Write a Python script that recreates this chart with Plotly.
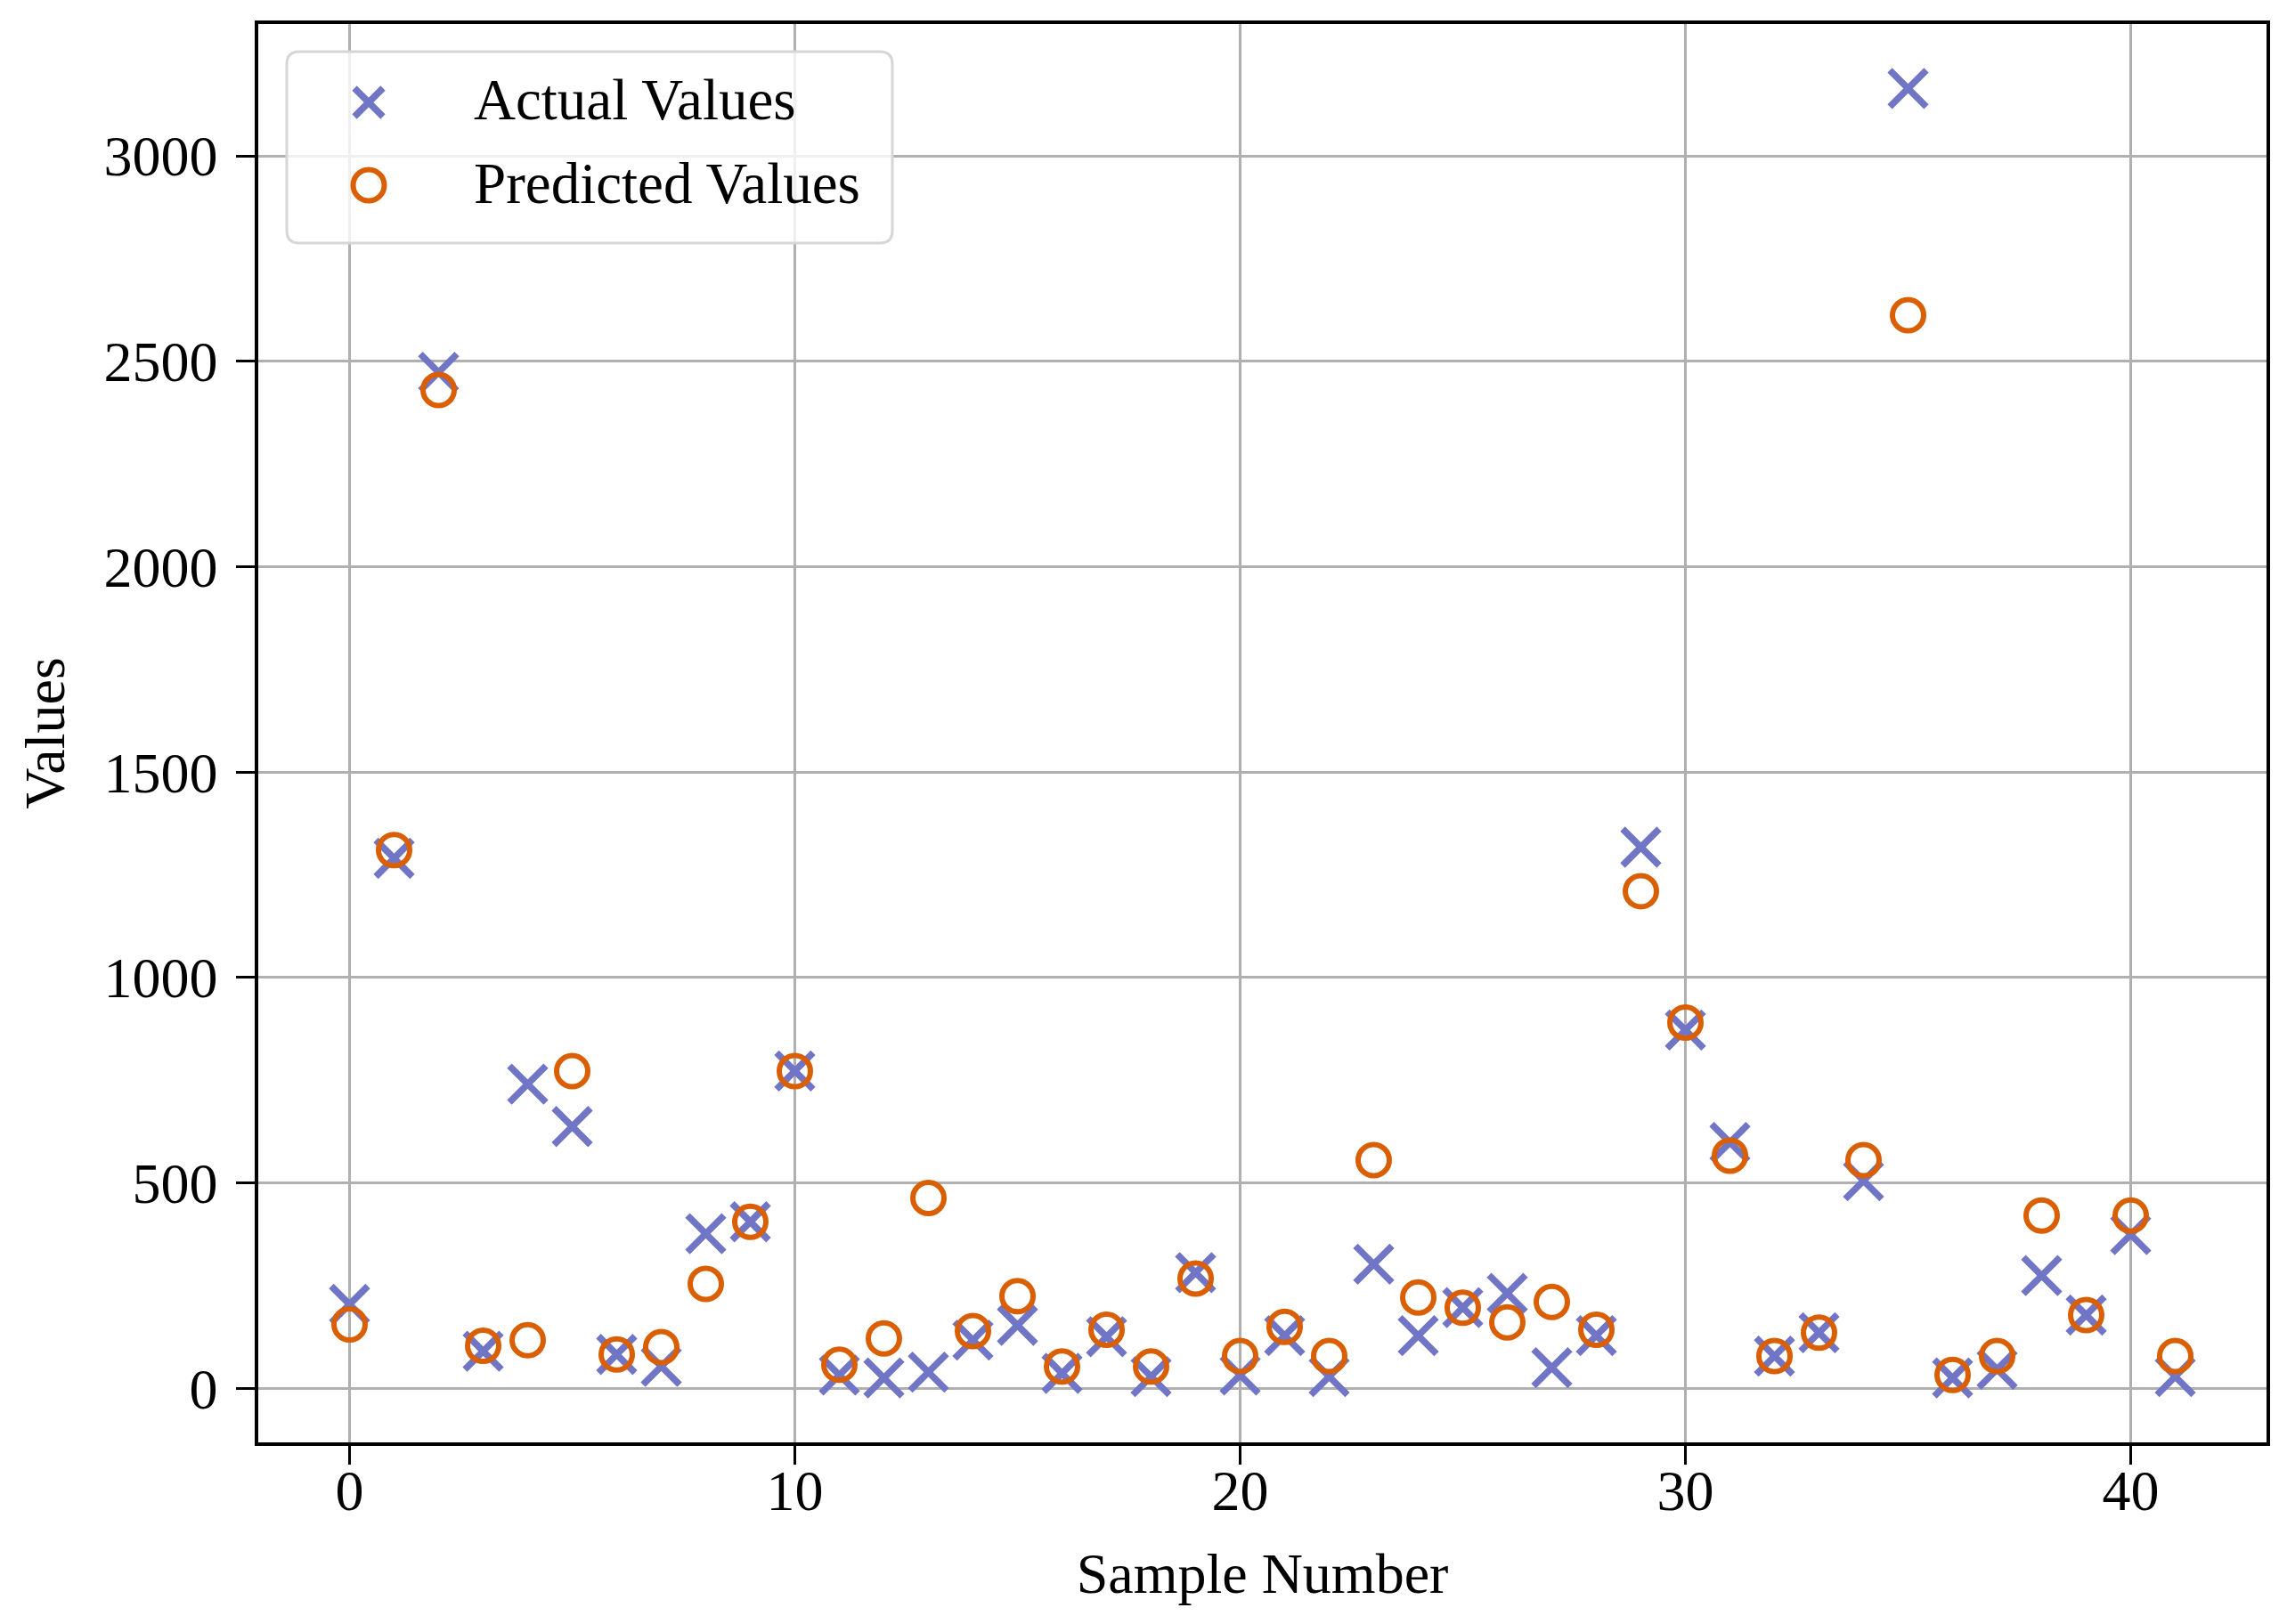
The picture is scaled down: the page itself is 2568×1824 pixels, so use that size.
import plotly.graph_objects as go

# ---- data ----
sample_number = list(range(42))
actual_values = [204, 1290, 2473, 90, 740, 637, 82, 53, 376, 405,
                 772, 32, 25, 39, 117, 153, 36, 125, 28, 281,
                 32, 128, 28, 302, 128, 196, 231, 50, 128, 1317,
                 872, 598, 78, 135, 505, 3164, 25, 46, 274, 178,
                 374, 28]
predicted_values = [155, 1310, 2430, 103, 117, 772, 82, 100, 254, 405,
                    772, 57, 121, 463, 139, 224, 53, 142, 53, 267,
                    78, 149, 78, 555, 221, 196, 160, 210, 142, 1210,
                    890, 566, 78, 135, 555, 2612, 32, 78, 420, 178,
                    420, 78]
x_ticks = [0, 10, 20, 30, 40]
y_ticks = [0, 500, 1000, 1500, 2000, 2500, 3000]
series_names = ["Actual Values", "Predicted Values"]

W, H = 2568, 1824
L, R, T, B = 290, 2545, 27, 1620   # plot area in pixels
FONT = "Liberation Serif, Times New Roman, serif"
FS = 64
C_ACT = "#7175c6"
C_PRED = "#d95f02"
TICKLEN = 21
X_RANGE = [-2.05, 43.05]

fig = go.Figure()
fig.add_trace(go.Scatter(
    x=sample_number, y=actual_values, mode="markers", name=series_names[0],
    showlegend=False,
    marker=dict(symbol="x-thin", size=41, color=C_ACT,
                line=dict(width=7.5, color=C_ACT)),
))
fig.add_trace(go.Scatter(
    x=sample_number, y=predicted_values, mode="markers", name=series_names[1],
    showlegend=False,
    marker=dict(symbol="circle-open", size=35, color=C_PRED,
                line=dict(width=6, color=C_PRED)),
))
# legend entries (symbols drawn larger below, since plotly caps legend symbol size)
fig.add_trace(go.Scatter(x=[None], y=[None], mode="markers", name=series_names[0], xaxis="x2",
                         legendgroup="a", marker=dict(symbol="x-thin", color=C_ACT, opacity=0,
                                                      line=dict(width=0))))
fig.add_trace(go.Scatter(x=[None], y=[None], mode="markers", name=series_names[1], xaxis="x2",
                         legendgroup="p", marker=dict(symbol="circle-open", color=C_PRED, opacity=0,
                                                      line=dict(width=0))))


def px_x(p):
    return (p - L) / (R - L)


def px_y(p):
    return (B - p) / (B - T)


# rounded legend frame (matplotlib style)
x0, x1, y0, y1, r = 322, 1002, 58, 273, 14
path = (
    f"M {px_x(x0 + r)},{px_y(y0)} L {px_x(x1 - r)},{px_y(y0)} "
    f"Q {px_x(x1)},{px_y(y0)} {px_x(x1)},{px_y(y0 + r)} "
    f"L {px_x(x1)},{px_y(y1 - r)} Q {px_x(x1)},{px_y(y1)} {px_x(x1 - r)},{px_y(y1)} "
    f"L {px_x(x0 + r)},{px_y(y1)} Q {px_x(x0)},{px_y(y1)} {px_x(x0)},{px_y(y1 - r)} "
    f"L {px_x(x0)},{px_y(y0 + r)} Q {px_x(x0)},{px_y(y0)} {px_x(x0 + r)},{px_y(y0)} Z"
)
fig.add_shape(type="path", path=path, xref="paper", yref="paper", layer="above",
              fillcolor="rgba(255,255,255,0.8)", line=dict(color="#d6d6d6", width=3))

# legend symbols
sx, sy_a, sy_p, arm = 414, 115, 208, 16
for dx in (1, -1):
    fig.add_shape(type="line", xref="paper", yref="paper", layer="above",
                  x0=px_x(sx - arm), y0=px_y(sy_a - dx * arm),
                  x1=px_x(sx + arm), y1=px_y(sy_a + dx * arm),
                  line=dict(color=C_ACT, width=7.5))
rad = 17.5
fig.add_shape(type="circle", xref="paper", yref="paper", layer="above",
              x0=px_x(sx - rad), x1=px_x(sx + rad), y0=px_y(sy_p + rad), y1=px_y(sy_p - rad),
              line=dict(color=C_PRED, width=6))

axis_common = dict(
    showgrid=True, gridcolor="#b0b0b0", gridwidth=2.8,
    showline=True, linecolor="black", linewidth=3.5, mirror=True,
    zeroline=False,
    ticks="outside", ticklen=TICKLEN, tickwidth=3, tickcolor="black",
    tickfont=dict(family=FONT, size=FS, color="black"),
)

fig.update_layout(
    width=W, height=H,
    margin=dict(l=L, r=W - R, t=T, b=H - B, autoexpand=False),
    paper_bgcolor="white", plot_bgcolor="white",
    font=dict(family=FONT, size=FS, color="black"),
    # main x axis: frame, grid and outside ticks
    xaxis=dict(range=X_RANGE, tickmode="array", tickvals=x_ticks,
               showticklabels=False, **axis_common),
    # overlay x axis carrying the tick labels and the title
    xaxis2=dict(range=X_RANGE, overlaying="x", anchor="free", position=0.0, side="bottom",
                tickmode="array", tickvals=x_ticks, ticks="", showline=False,
                showgrid=False, zeroline=False, ticklabelstandoff=11,
                tickfont=dict(family=FONT, size=FS, color="black"),
                title=dict(text="Sample Number", font=dict(family=FONT, size=FS), standoff=35)),
    yaxis=dict(range=[-132, 3321], tickvals=y_ticks, ticklabelstandoff=8,
               title=dict(text="Values", font=dict(family=FONT, size=FS), standoff=24),
               **axis_common),
    legend=dict(x=px_x(322), y=px_y(60), xanchor="left", yanchor="top",
                bgcolor="rgba(0,0,0,0)", borderwidth=0,
                itemwidth=200, tracegroupgap=6,
                font=dict(family=FONT, size=65, color="black")),
    showlegend=True,
)

fig.write_html("out.html", config={"displayModeBar": False},
               post_script="document.body.style.margin='0px';document.body.style.overflow='hidden';")
